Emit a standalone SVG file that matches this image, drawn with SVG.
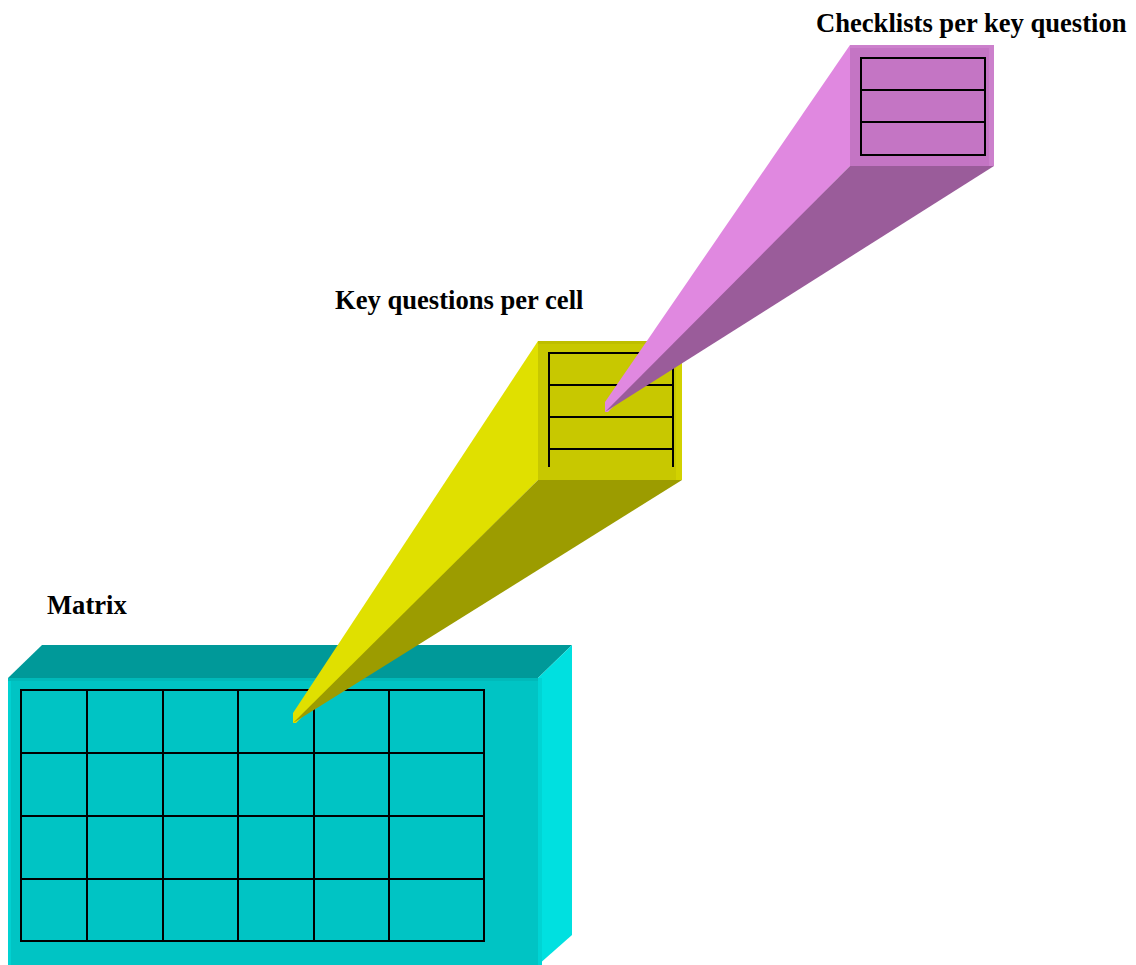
<svg xmlns="http://www.w3.org/2000/svg" width="1136" height="965" viewBox="0 0 1136 965">
<style>
.lbl{font-family:"Liberation Serif","Times New Roman",serif;font-weight:bold;font-size:26.6px;fill:#000}
.grid{fill:none;stroke:#000;stroke-width:2}
</style>
<rect width="1136" height="965" fill="#fff"/>
<g id="matrix">
<polygon points="8,678 42,645 572,645 538,678" fill="#009999"/>
<rect x="8" y="678" width="530" height="287" fill="#00C4C4"/>
<rect x="8" y="678" width="3" height="287" fill="#00D2D2"/>
<rect x="8" y="678" width="530" height="3" fill="#00BABA"/>
<polygon points="538,678 572,645 572,935 538,965" fill="#00E0E0"/>
<rect x="538" y="678" width="4" height="287" fill="#00D4D4"/>
<path class="grid" d="M21,690H484V941H21Z M87,690V941 M163,690V941 M238,690V941 M314,690V941 M389,690V941 M21,753H484 M21,816H484 M21,879H484"/>
<text class="lbl" x="47" y="614">Matrix</text>
</g>
<g id="keyquestions">
<rect x="538" y="341" width="144" height="139" fill="#C8C800"/>
<rect x="538" y="341" width="144" height="3" fill="#BEBE00"/>
<rect x="676" y="341" width="6" height="139" fill="#D2D200"/>
<path class="grid" d="M549,467V353H673V467 M549,385H673 M549,417H673 M549,449H673"/>
<polygon points="293,713 538,341 538,480 296,723 293,723" fill="#E0E000"/>
<polygon points="293,723 538,480 682,480" fill="#9C9C00"/>
<text class="lbl" x="335" y="309">Key questions per cell</text>
</g>
<g id="checklists">
<rect x="850" y="45" width="144" height="121" fill="#C475C4"/>
<rect x="850" y="45" width="144" height="3" fill="#CC80CC"/>
<rect x="989" y="45" width="5" height="121" fill="#CC80CC"/>
<path class="grid" d="M861,58H985V155H861Z M861,90H985 M861,122H985"/>
<polygon points="605,402 850,45 850,166 608,412 605,412" fill="#E088E0"/>
<polygon points="605,412 850,166 994,166" fill="#9A5C9A"/>
<text class="lbl" x="816" y="32">Checklists per key question</text>
</g>
<g id="connectors"></g>
</svg>
